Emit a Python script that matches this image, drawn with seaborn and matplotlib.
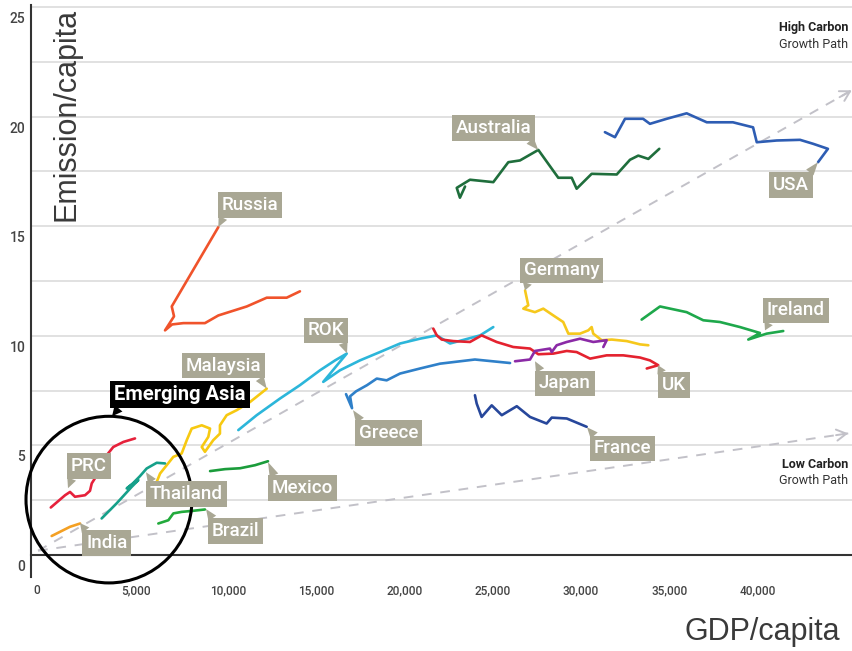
import numpy as np
import pandas as pd
import matplotlib
matplotlib.use("Agg")
import matplotlib.pyplot as plt
import matplotlib.transforms as mtransforms
from matplotlib.patches import Ellipse
import seaborn as sns

sns.set_style("white")
plt.rcParams['font.family'] = ['Roboto', 'DejaVu Sans']

# --- data (GDP per capita, emission per capita) ---
usa_gdp = [32500, 33070, 33640, 34660, 35050, 36000, 37130, 38270, 39750, 40890, 41100, 42230, 43550, 44290, 45130, 44570]
usa_em = [19.29, 19.06, 19.90, 19.90, 19.67, 19.90, 20.15, 19.74, 19.74, 19.51, 18.83, 18.91, 18.94, 18.76, 18.53, 17.92]

aus_gdp = [24580, 24290, 24110, 24860, 26180, 27030, 27690, 28730, 29860, 30620, 30900, 31750, 33170, 33920, 34390, 34960, 35580]
aus_em = [16.81, 16.30, 16.75, 17.12, 17.01, 17.92, 18.00, 18.48, 17.21, 17.21, 16.71, 17.39, 17.36, 18.03, 18.22, 18.07, 18.53]

rus_gdp = [10610, 7970, 8100, 7590, 7990, 8630, 9850, 10610, 12220, 13350, 14480, 15230]
rus_em = [14.96, 11.34, 10.89, 10.25, 10.52, 10.58, 10.58, 10.93, 11.34, 11.74, 11.74, 12.03]

ger_gdp = [27980, 28160, 27880, 28540, 29010, 29580, 30140, 30430, 31090, 31560, 31750, 31840, 32320, 32890, 33740, 34490, 34960]
ger_em = [12.07, 11.39, 11.24, 11.08, 11.24, 10.93, 10.63, 10.10, 10.10, 10.25, 10.40, 10.10, 9.80, 9.83, 9.76, 9.61, 9.57]

irl_gdp = [34580, 35620, 37130, 38070, 39020, 40150, 41280, 40620, 41660, 42600]
irl_em = [10.74, 11.34, 11.08, 10.71, 10.63, 10.40, 10.13, 9.83, 10.10, 10.22]

rok_gdp = [11740, 12780, 14100, 15230, 16370, 17220, 17880, 16550, 17500, 18630, 19760, 20900, 22030, 22980, 23730, 25430, 26180]
rok_em = [5.70, 6.38, 7.14, 7.75, 8.43, 8.88, 9.19, 7.90, 8.43, 8.88, 9.26, 9.65, 9.87, 10.02, 9.65, 10.02, 10.40]

gre_gdp = [17840, 18180, 18070, 18410, 19030, 19580, 20140, 20900, 22030, 23160, 25140, 27130]
gre_em = [7.34, 6.70, 7.24, 7.47, 7.75, 8.05, 7.97, 8.28, 8.51, 8.73, 8.92, 8.76]

uk_gdp = [22780, 22980, 23260, 23920, 24860, 25520, 26370, 27310, 28260, 28730, 29580, 30340, 30900, 31660, 32600, 33540, 34490, 35050, 35520, 34870]
uk_em = [10.33, 10.02, 9.83, 9.76, 9.72, 10.02, 9.72, 9.49, 9.42, 9.16, 9.19, 9.31, 9.26, 8.96, 9.11, 9.11, 9.01, 8.88, 8.66, 8.51]

jpn_gdp = [27410, 28260, 28540, 29390, 29490, 29770, 30340, 31090, 31840, 32600, 32410]
jpn_em = [8.84, 8.92, 9.31, 9.42, 9.26, 9.57, 9.72, 9.87, 9.72, 9.80, 9.49]

fra_gdp = [25140, 25240, 25520, 26090, 26660, 27510, 28260, 29200, 29490, 30340, 31470]
fra_em = [7.29, 6.91, 6.30, 6.83, 6.38, 6.79, 6.30, 6.00, 6.27, 6.23, 5.85]

mys_gdp = [7120, 7310, 8060, 8530, 8820, 9100, 9670, 10140, 10040, 9670, 9850, 10320, 10700, 10700, 11080, 11650, 12400, 13350]
mys_em = [3.34, 3.72, 4.48, 4.63, 5.24, 5.77, 5.92, 5.77, 5.39, 4.93, 4.71, 5.24, 5.54, 5.92, 6.38, 6.61, 6.98, 7.59]

prc_gdp = [1120, 1930, 2210, 2490, 3060, 3340, 3440, 3910, 4290, 4660, 5230, 5890]
prc_em = [2.17, 2.73, 2.88, 2.66, 2.73, 2.93, 3.27, 3.87, 4.56, 4.93, 5.16, 5.32]

ind_gdp = [1170, 1640, 2210, 2780]
ind_em = [0.87, 1.06, 1.29, 1.44]

tha_gdp = [4000, 4850, 5700, 6080, 5420, 5780, 6170, 6550, 7120, 7590]
tha_em = [1.67, 2.36, 3.11, 3.42, 3.04, 3.28, 3.60, 3.95, 4.21, 4.18]

mex_gdp = [10140, 10990, 11840, 12690, 13420]
mex_em = [3.83, 3.92, 3.96, 4.10, 4.28]

bra_gdp = [7210, 7780, 8060, 8530, 9190, 9850]
bra_em = [1.44, 1.59, 1.90, 1.97, 2.02, 2.08]

# growth path guides
high_x = [400, 46480]
high_y = [0.2, 21.2]
low_x = [400, 46280]
low_y = [0.2, 5.55]

x_ticks = [0, 5000, 10000, 15000, 20000, 25000, 30000, 35000, 40000, 45000]
x_tick_labels = ["0", "5,000", "10,000", "15,000", "20,000", "25,000", "30,000", "35,000", "40,000", ""]
y_ticks = [0, 5, 10, 15, 20, 25]

# callout labels: name, anchor point (gdp, emission)
label_names = ["Russia", "Australia", "USA", "Germany", "Ireland", "ROK", "Malaysia",
               "PRC", "Thailand", "Mexico", "Brazil", "India", "Japan", "UK", "Greece", "France"]
label_x = [10607, 28728, 44568, 27975, 41566, 17895, 13350,
           2095, 6512, 13421, 9910, 2775, 28542, 35507, 18235, 31486]
label_y = [14.96, 18.48, 17.92, 12.07, 10.25, 9.20, 7.59,
           3.05, 3.78, 4.24, 2.10, 1.46, 8.84, 8.66, 6.61, 5.83]

series = {
    "USA": (usa_gdp, usa_em), "Australia": (aus_gdp, aus_em), "Russia": (rus_gdp, rus_em),
    "Germany": (ger_gdp, ger_em), "Ireland": (irl_gdp, irl_em), "ROK": (rok_gdp, rok_em),
    "Greece": (gre_gdp, gre_em), "UK": (uk_gdp, uk_em), "Japan": (jpn_gdp, jpn_em),
    "France": (fra_gdp, fra_em), "Malaysia": (mys_gdp, mys_em), "PRC": (prc_gdp, prc_em),
    "India": (ind_gdp, ind_em), "Thailand": (tha_gdp, tha_em), "Mexico": (mex_gdp, mex_em),
    "Brazil": (bra_gdp, bra_em),
}
colors = {
    "USA": "#2e5db3", "Australia": "#1f6e3c", "Russia": "#f0532b", "Germany": "#f6c81c",
    "Ireland": "#1ea84b", "ROK": "#2cb6da", "Greece": "#2f80c9", "UK": "#e4222f",
    "Japan": "#8b2aa6", "France": "#27479b", "Malaysia": "#f7c911", "PRC": "#e6213b",
    "India": "#f4a023", "Thailand": "#16a08a", "Mexico": "#1b9c3b", "Brazil": "#22aa3c",
}

df = pd.concat([pd.DataFrame({"gdp": g, "emission": e, "country": c})
                for c, (g, e) in series.items()], ignore_index=True)

BOX = "#a9a794"
PX = 0.72  # pixels -> points at 100 dpi

fig = plt.figure(figsize=(8.53, 6.51), dpi=100)
ax = fig.add_axes([31 / 853, 74 / 651, 822 / 853, 572 / 651])

# dashed growth paths
ax.plot(high_x, high_y, ls=(0, (5, 4.5)), color="#c2c1c8", lw=1.4, zorder=2)
ax.plot(low_x, low_y, ls=(0, (5, 4.5)), color="#c2c1c8", lw=1.4, zorder=2)
for xs, ys in [(high_x, high_y), (low_x, low_y)]:
    t = 0.985
    ax.annotate("", xy=(xs[1], ys[1]),
                xytext=(xs[0] + t * (xs[1] - xs[0]), ys[0] + t * (ys[1] - ys[0])),
                arrowprops=dict(arrowstyle="->,head_length=0.7,head_width=0.4",
                                color="#c2c1c8", lw=1.4, shrinkA=0, shrinkB=0),
                annotation_clip=False, zorder=2)

sns.lineplot(data=df, x="gdp", y="emission", hue="country", palette=colors,
             sort=False, estimator=None, legend=False, lw=1.9, ax=ax, zorder=3)

# Emerging Asia circle
ax.add_patch(Ellipse((4417, 2.53), width=9400, height=7.6, fill=False,
                     ec="black", lw=2.2, clip_on=False, zorder=4))

# axes styling
ax.set_xlim(0, 46550)
ax.set_ylim(-1, 25.09)
for s in ["top", "right"]:
    ax.spines[s].set_visible(False)
ax.spines["bottom"].set_position(("data", 0))
for s in ["left", "bottom"]:
    ax.spines[s].set_color("#333333")
    ax.spines[s].set_linewidth(1.5)

ax.set_xticks(x_ticks)
ax.set_xticklabels(x_tick_labels, fontweight="medium")
ax.set_yticks(y_ticks)
ax.set_yticklabels([str(v) for v in y_ticks], fontweight="medium")
ax.set_yticks(np.arange(2.5, 25, 5), minor=True)
ax.tick_params(axis="x", direction="out", length=17, width=1.4, color="#333333",
               pad=4, labelsize=8.5, labelcolor="#444444")
ax.tick_params(axis="y", which="major", direction="out", length=16.5, width=1.4,
               color="#333333", pad=-12.5, labelsize=10, labelcolor="#444444")
ax.tick_params(axis="y", which="minor", direction="out", length=9.5, width=1.4,
               color="#333333")
for lab in ax.get_xticklabels():
    lab.set_ha("left")
    lab.set_transform(lab.get_transform() + mtransforms.ScaledTranslation(0.02, 0, fig.dpi_scale_trans))
for lab in ax.get_yticklabels():
    lab.set_va("top")
    lab.set_transform(lab.get_transform() + mtransforms.ScaledTranslation(0, -0.05, fig.dpi_scale_trans))

ax.grid(axis="y", which="both", color="#d8d8d8", lw=1.1)
ax.grid(axis="x", visible=False)
ax.set_axisbelow(True)

ax.set_xlabel("GDP/capita", fontsize=22, color="#3a3a3a", family=["Liberation Sans", "DejaVu Sans"])
ax.xaxis.set_label_coords(0.89, -0.07)
ax.set_ylabel("Emission/capita", fontsize=22, color="#3a3a3a", family=["Liberation Sans", "DejaVu Sans"])
ax.yaxis.set_label_coords(0.062, 0.808)

# callouts: offset (px, up positive) and which box corner carries the tail
offsets = {
    "Russia": (3, 13, "BL"), "Australia": (-7, 13, "BR"), "USA": (-9, -14, "TR"),
    "Germany": (-1, 11, "BL"), "Ireland": (2, 11, "BL"), "ROK": (-3, 14, "BR"),
    "Malaysia": (-5, 14, "BR"), "PRC": (3, 13, "BL"), "Thailand": (4, -13, "TL"),
    "Mexico": (4, -17, "TL"), "Brazil": (6, -13, "TL"), "India": (6, -11, "TL"),
    "Japan": (4, -13, "TL"), "UK": (4, -11, "TL"), "Greece": (6, -14, "TL"),
    "France": (7, -12, "TL"),
}
corner = {"BL": ("left", "bottom", (0.06, 0)), "BR": ("right", "bottom", (0.94, 0)),
          "TL": ("left", "top", (0.06, 1)), "TR": ("right", "top", (0.94, 1))}


def callout(name, x, y, dx, dy, c, fc=BOX, size=13.5, weight="medium"):
    ha, va, rel = corner[c]
    ax.annotate(name, xy=(x, y), xytext=(dx * PX, dy * PX), textcoords="offset points",
                ha=ha, va=va, fontsize=size, color="white", fontweight=weight,
                bbox=dict(boxstyle="square,pad=0.2", fc=fc, ec="none"),
                arrowprops=dict(arrowstyle="wedge,tail_width=0.5,shrink_factor=0.5",
                                fc=fc, ec="none", relpos=rel, shrinkA=0, shrinkB=0),
                zorder=6, annotation_clip=False)


for n, x, y in zip(label_names, label_x, label_y):
    dx, dy, c = offsets[n]
    callout(n, x, y, dx, dy, c)

callout("Emerging Asia", 4587, 6.33, 2, 12, "BL", fc="black", size=14.5, weight="bold")

# growth path notes
fig.text(848 / 853, 1 - 27 / 651, "High Carbon", ha="right", va="center",
         fontsize=9, fontweight="bold", color="#222222")
fig.text(848 / 853, 1 - 44 / 651, "Growth Path", ha="right", va="center",
         fontsize=9, color="#333333")
fig.text(848 / 853, 1 - 464 / 651, "Low Carbon", ha="right", va="center",
         fontsize=9, fontweight="bold", color="#222222")
fig.text(848 / 853, 1 - 481 / 651, "Growth Path", ha="right", va="center",
         fontsize=9, color="#333333")

fig.savefig("out.png", dpi=100)
